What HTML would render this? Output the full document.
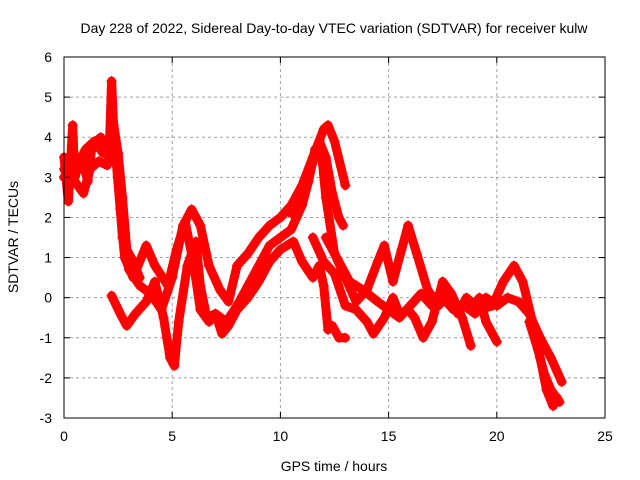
<!DOCTYPE html>
<html><head><meta charset="utf-8"><style>
body{margin:0;background:#fff}svg{display:block;font-family:"Liberation Sans",sans-serif}
</style></head><body>
<svg id="c" width="640" height="480">
<text x="334" y="33" text-anchor="middle" font-size="14">Day 228 of 2022, Sidereal Day-to-day VTEC variation (SDTVAR) for receiver kulw</text>
<text x="334" y="471" text-anchor="middle" font-size="14">GPS time / hours</text>
<text transform="translate(18,237) rotate(-90)" text-anchor="middle" font-size="14">SDTVAR / TECUs</text>
<g id="grid"></g><g id="data"></g><g id="axes"></g>
</svg>
<script>
const xTicks=[0,5,10,15,20,25];
const yTicks=[-3,-2,-1,0,1,2,3,4,5,6];
const traceA=[[0,3.2],[0.3,3.5],[0.6,3.3],[1,3.7],[1.4,3.9],[1.8,3.6],[2.1,3.8],[2.2,5.4],[2.3,4.2],[2.5,3],[2.7,1.5],[3,0.7],[3.5,0.3],[4,0.1],[4.5,-0.3],[5,0.5],[5.5,1.8],[5.9,2.2],[6.3,1.8],[6.7,0.8],[7.2,0.2],[7.6,-0.1],[8,0.8],[8.5,1.1],[9,1.5],[9.5,1.8],[10,2],[10.5,2.3],[11,2.8],[11.5,3.5],[12,4.2],[12.2,4.3],[12.5,3.9],[13,2.8]];
const traceA2=[[0,3.5],[0.2,2.4],[0.4,4.3],[0.5,3.0],[0.8,3.5],[1.1,2.9],[1.3,3.8],[1.7,4.0],[2.0,3.7],[2.3,4.3],[2.5,3.6],[2.7,2.5],[2.9,1.2],[3.2,0.9],[3.5,0.5]];
const traceB=[[0,3],[0.5,2.9],[0.9,2.6],[1.2,3.2],[1.6,3.4],[2,3.3],[2.3,4.1],[2.6,2.2],[2.8,1],[3.2,0.5],[3.8,1.3],[4.2,0.8],[4.8,0.3],[5.2,1.2],[5.6,1.9],[6,0.8],[6.3,-0.3],[6.7,-0.6],[7,-0.4],[7.5,-0.6],[8,-0.2],[8.5,0.3],[9,0.8],[9.5,1.3],[10,1.5],[10.5,1.7],[11,2.3],[11.3,2.9],[11.6,3.7],[11.9,3.6],[12.1,2.5],[12.5,1.1],[13,0.5],[13.5,-0.1],[14,0.2],[14.5,0.9],[14.8,1.3],[15.2,0.4],[15.6,1.2],[15.9,1.8],[16.3,1.1],[16.8,0.2],[17.3,-0.2],[17.8,0.1],[18.2,-0.4],[18.6,0],[19.2,-0.3],[19.8,-0.2],[20.3,0.4],[20.8,0.8],[21.2,0.4],[21.6,-0.5],[22,-1.5],[22.3,-2.3],[22.6,-2.7],[22.8,-2.5]];
const traceC=[[2.2,0.05],[2.6,-0.4],[2.9,-0.7],[3.3,-0.4],[3.8,-0.1],[4.2,0.4],[4.6,-0.5],[4.9,-1.5],[5.1,-1.7],[5.3,-0.6],[5.7,0.8],[6.1,1.4],[6.3,0.3],[6.6,-0.5],[7,-0.4],[7.3,-0.9],[7.6,-0.7],[8,-0.3],[8.5,0],[9,0.4],[9.5,0.9],[10,1.2],[10.6,1.4],[11,0.9],[11.5,0.5],[11.8,0.8],[12,0.3],[12.2,-0.8],[12.4,-0.7],[12.7,-1],[13,-1]];
const traceD=[[10.5,2.1],[11,2.6],[11.4,3.2],[11.8,3.9],[12.1,3.5],[12.4,2.6],[12.7,2.0],[12.9,1.8]];
const traceE=[[11.5,1.5],[12,0.9],[12.5,0.6],[13,-0.2],[13.5,-0.3],[14,-0.6],[14.3,-0.9],[14.8,-0.5],[15.2,0],[15.5,-0.4],[15.9,-0.3],[16.2,-0.5],[16.6,-1],[17,-0.6],[17.5,0.4],[17.9,0.1],[18.4,-0.5],[18.8,-1.2]];
const traceF=[[12.1,1.5],[12.6,1],[13.2,0.4],[13.8,0.2],[14.5,-0.1],[15,-0.3],[15.5,-0.5],[16,-0.2],[16.5,0.1],[17,-0.2],[17.5,0],[18,-0.3],[18.5,-0.2],[19,-0.4],[19.5,0],[20,-0.2],[20.5,0],[21,-0.1],[21.5,-0.4],[22,-1],[22.5,-1.5],[23,-2.1]];
const traceG=[[21.5,-0.6],[21.9,-1.3],[22.2,-1.9],[22.5,-2.3],[22.9,-2.6]];
const traceH=[[18.8,-0.3],[19.2,0],[19.5,-0.6],[20,-1.1]];
const traces=[traceA,traceA2,traceB,traceC,traceD,traceE,traceF,traceG,traceH];

const X0=64,X1=605,Y0=418,Y1=57;
const xs=t=>X0+(t-0)/(25-0)*(X1-X0);
const ys=v=>Y0-(v-(-3))/(6-(-3))*(Y0-Y1);
const NS="http://www.w3.org/2000/svg";
function mk(tag,attrs,parent){const e=document.createElementNS(NS,tag);for(const k in attrs)e.setAttribute(k,attrs[k]);parent.appendChild(e);return e;}
const grid=document.getElementById('grid'),axes=document.getElementById('axes'),data=document.getElementById('data');
xTicks.forEach(t=>{
  if(t>0&&t<25){const g=mk('line',{x1:xs(t),x2:xs(t),y1:Y1,y2:Y0,stroke:'#a0a0a0','stroke-dasharray':'3,3'},grid);
  
  }
  mk('line',{x1:xs(t),x2:xs(t),y1:Y0,y2:Y0-6,stroke:'#000'},axes);
  mk('line',{x1:xs(t),x2:xs(t),y1:Y1,y2:Y1+6,stroke:'#000'},axes);
  const l=mk('text',{x:xs(t),y:Y0+23,'text-anchor':'middle','font-size':14},axes);l.textContent=t;
  
  
});
yTicks.forEach(v=>{
  if(v>-3&&v<6){const g=mk('line',{x1:X0,x2:X1,y1:ys(v),y2:ys(v),stroke:'#a0a0a0','stroke-dasharray':'3,3'},grid);
  
  }
  mk('line',{x1:X0,x2:X0+6,y1:ys(v),y2:ys(v),stroke:'#000'},axes);
  mk('line',{x1:X1,x2:X1-6,y1:ys(v),y2:ys(v),stroke:'#000'},axes);
  const l=mk('text',{x:X0-12,y:ys(v)+5,'text-anchor':'end','font-size':14},axes);l.textContent=v;
  
  
});
const fr=mk('rect',{x:X0,y:Y1,width:X1-X0,height:Y0-Y1,fill:'none',stroke:'#000'},axes);


traces.forEach((tr,i)=>{
  const p=mk('polyline',{points:tr.map(d=>xs(d[0])+','+ys(d[1])).join(' '),fill:'none',stroke:'#f00','stroke-width':9,'stroke-linejoin':'round','stroke-linecap':'round'},data);
  
  
  tr.forEach(d=>{
    const m=mk('path',{d:`M${xs(d[0])-5},${ys(d[1])}h10M${xs(d[0])},${ys(d[1])-5}v10`,stroke:'#f00','stroke-width':1.5},data);
    
    
  });
});
</script>
</body></html>
